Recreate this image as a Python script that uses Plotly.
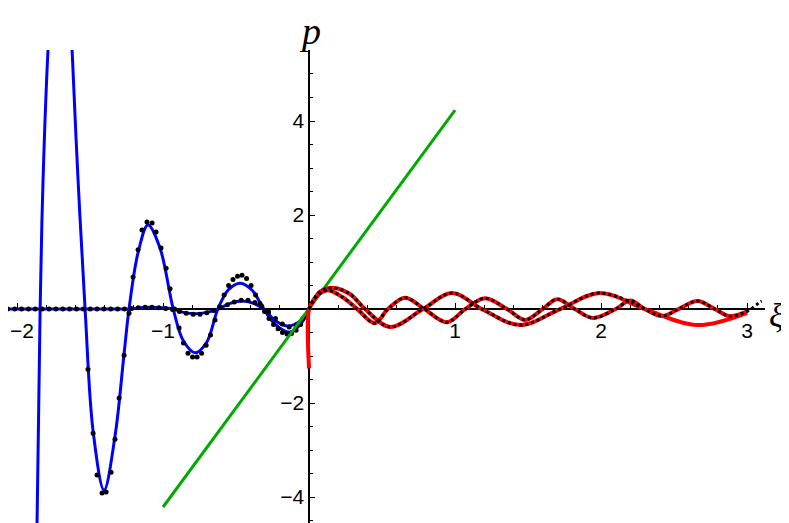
import plotly.graph_objects as go

# big blue curve (negative side)
blue1_xi = [-1.90, -1.863, -1.842, -1.822, -1.788, -1.69, -1.623, -1.582, -1.534, -1.479, -1.404,
            -1.329, -1.267, -1.233, -1.171, -1.103, -1.021, -0.93, -0.86, -0.78, -0.70, -0.625,
            -0.55, -0.47, -0.39, -0.31, -0.23, -0.13, -0.06, 0.0]
blue1_p = [-14.0, -4.55, 0.0, 2.74, 5.51, 10.5, 5.51, 2.74, 0.0, -2.6, -3.85,
           -2.7, -0.95, 0.0, 1.2, 1.79, 1.30, 0.0, -0.68, -0.93, -0.70, 0.0,
           0.42, 0.55, 0.40, 0.0, -0.33, -0.49, -0.33, 0.0]

# small blue curve
blue2_xi = [-2.12, -1.30, -1.233, -1.10, -0.93, -0.86, -0.78, -0.70, -0.625, -0.54, -0.46,
            -0.38, -0.31, -0.23, -0.15, -0.06, 0.0]
blue2_p = [0.0, 0.0, 0.0, 0.04, 0.0, -0.07, -0.10, -0.07, 0.0, 0.12, 0.17,
           0.12, 0.0, -0.25, -0.36, -0.25, 0.0]

# black sample points on the big curve
dots1_xi = [-1.514, -1.479, -1.452, -1.418, -1.390, -1.356, -1.329, -1.301, -1.267, -1.233,
            -1.205, -1.171, -1.144, -1.110, -1.075, -1.048, -1.014, -0.979, -0.952, -0.921,
            -0.890, -0.860, -0.829, -0.798, -0.767, -0.736, -0.705, -0.675, -0.644, -0.613,
            -0.582, -0.551, -0.521, -0.490, -0.459, -0.428, -0.397, -0.366, -0.336, -0.305,
            -0.274, -0.243, -0.212, -0.182, -0.151, -0.120, -0.089, -0.058, -0.027]
dots1_p = [-1.28, -2.64, -3.53, -3.91, -3.89, -3.47, -2.77, -1.89, -0.98, -0.09,
           0.68, 1.26, 1.68, 1.85, 1.83, 1.64, 1.30, 0.87, 0.43, 0.0,
           -0.40, -0.72, -0.94, -1.02, -1.02, -0.94, -0.77, -0.55, -0.23, 0.05,
           0.30, 0.50, 0.63, 0.70, 0.72, 0.65, 0.50, 0.30, 0.12, -0.05,
           -0.20, -0.33, -0.42, -0.50, -0.53, -0.52, -0.45, -0.33, -0.15]

# black sample points on the small curve
dots2_xi = [-2.110, -2.063, -2.016, -1.969, -1.922, -1.875, -1.828, -1.781, -1.734, -1.687,
            -1.640, -1.593, -1.546, -1.499, -1.452, -1.405, -1.358, -1.311, -1.264, -1.217,
            -1.170, -1.123, -1.076, -1.029, -0.982, -0.935, -0.888, -0.841, -0.794, -0.747,
            -0.700, -0.653, -0.606, -0.559, -0.512, -0.465, -0.418, -0.371, -0.324, -0.277,
            -0.230, -0.183, -0.136, -0.089, -0.042]
dots2_p = [0.0, 0.0, 0.0, 0.0, 0.0, 0.0, 0.0, 0.0, 0.0, 0.0,
           0.0, 0.0, 0.0, 0.0, 0.0, 0.0, 0.0, 0.0, 0.0, 0.01,
           0.03, 0.04, 0.04, 0.03, 0.01, -0.01, -0.05, -0.09, -0.11, -0.11,
           -0.08, -0.03, 0.03, 0.09, 0.15, 0.19, 0.19, 0.14, 0.06, -0.06,
           -0.20, -0.32, -0.38, -0.34, -0.20]

# green line
green_xi = [-1.0, 1.0]
green_p = [-4.21, 4.23]

# red curves (positive side)
red1_xi = [0.0, 0.0, 0.03, 0.07, 0.13, 0.23, 0.33, 0.45, 0.54, 0.658, 0.79, 0.945, 1.07, 1.205,
           1.356, 1.48, 1.60, 1.70, 1.82, 1.945, 2.1, 2.2, 2.3, 2.42, 2.53, 2.66, 2.78, 2.88, 3.0]
red1_p = [-1.26, 0.0, 0.17, 0.32, 0.40, 0.25, 0.0, -0.30, 0.0, 0.24, 0.0, -0.28, 0.0, 0.23,
          0.0, -0.23, 0.0, 0.21, 0.0, -0.19, 0.0, 0.18, 0.0, -0.15, 0.0, 0.17, 0.0, -0.15, -0.05]
red2_xi = [0.0, 0.03, 0.08, 0.17, 0.28, 0.384, 0.555, 0.78, 0.98, 1.185, 1.445, 1.72, 1.99,
           2.30, 2.66, 3.0]
red2_p = [0.0, 0.19, 0.38, 0.45, 0.32, 0.0, -0.38, 0.0, 0.34, 0.0, -0.34, 0.0, 0.34,
          0.0, -0.34, -0.08]

# dense black samples over the red curves
dense1_xi = red1_xi[1:] + [3.04, 3.08, 3.10]
dense1_p = red1_p[1:] + [0.03, 0.13, 0.17]
dense2_xi = red2_xi[:14]
dense2_p = red2_p[:14]

x_ticks = [-2, -1, 1, 2, 3]
x_labels = ["", "\u22121", "1", "2", "3"]  # -2 is placed by hand, it sits on the left edge
y_ticks = [-4, -2, 2, 4]

# the page puts the figure 8px in from the top-left corner
x_range = [-2.062, 3.123]
y_range = [-4.55, 5.51]

fig = go.Figure()
fig.add_trace(go.Scatter(x=blue2_xi, y=blue2_p, mode="lines",
                         line=dict(color="#0000ff", width=3, shape="spline")))
fig.add_trace(go.Scatter(x=blue1_xi, y=blue1_p, mode="lines",
                         line=dict(color="#0000ff", width=3, shape="spline")))
fig.add_trace(go.Scatter(x=dots2_xi, y=dots2_p, mode="markers",
                         marker=dict(color="black", size=5)))
fig.add_trace(go.Scatter(x=dots1_xi, y=dots1_p, mode="markers",
                         marker=dict(color="black", size=5)))
fig.add_trace(go.Scatter(x=green_xi, y=green_p, mode="lines",
                         line=dict(color="#00aa00", width=3)))
fig.add_trace(go.Scatter(x=red2_xi, y=red2_p, mode="lines",
                         line=dict(color="#ff0000", width=4, shape="spline")))
fig.add_trace(go.Scatter(x=red1_xi, y=red1_p, mode="lines",
                         line=dict(color="#ff0000", width=4, shape="spline")))
fig.add_trace(go.Scatter(x=dense2_xi, y=dense2_p, mode="lines",
                         line=dict(color="black", width=3, shape="spline", dash="3px,3px")))
fig.add_trace(go.Scatter(x=dense1_xi, y=dense1_p, mode="lines",
                         line=dict(color="black", width=3, shape="spline", dash="3px,3px")))

tick_font = dict(family="Liberation Sans, Arial, sans-serif", size=21, color="black")

fig.update_layout(
    width=789, height=523,
    margin=dict(l=0, r=32, t=42, b=8),
    plot_bgcolor="white",
    paper_bgcolor="white",
    showlegend=False,
    xaxis=dict(
        range=x_range, anchor="free", position=(0 - y_range[0]) / (y_range[1] - y_range[0]),
        automargin=False, ticklabeloverflow="allow",
        showline=True, linecolor="black", linewidth=1.5, layer="below traces",
        showgrid=False, zeroline=False,
        tickmode="array", tickvals=x_ticks, ticktext=x_labels,
        ticks="inside", ticklen=5, tickcolor="black",
        ticklabelstandoff=3, tickfont=tick_font,
        minor=dict(tickmode="linear", tick0=0, dtick=0.2, ticks="inside", ticklen=3,
                   tickcolor="black", showgrid=False),
    ),
    yaxis=dict(
        range=y_range, anchor="free", position=(0 - x_range[0]) / (x_range[1] - x_range[0]),
        automargin=False, ticklabeloverflow="allow",
        showline=True, linecolor="black", linewidth=1.5, layer="below traces",
        showgrid=False, zeroline=False,
        tickmode="array", tickvals=y_ticks, ticks="inside", ticklen=5, tickcolor="black",
        tickfont=tick_font,
        minor=dict(tickmode="linear", tick0=0, dtick=0.5, ticks="inside", ticklen=3,
                   tickcolor="black", showgrid=False),
    ),
)

fig.add_annotation(text="\u22122", xref="paper", yref="paper", x=0, y=193 / 473,
                   xanchor="left", yanchor="middle", showarrow=False, font=tick_font)
fig.add_annotation(text="<i>p</i>", xref="paper", yref="paper", x=302 / 757, y=1 + 19 / 473,
                   xanchor="center", yanchor="middle", showarrow=False,
                   font=dict(family="Liberation Serif", size=38, color="black"))
fig.add_annotation(text="<i>ξ</i>", xref="paper", yref="paper", x=768 / 757, y=207 / 473,
                   xanchor="center", yanchor="middle", showarrow=False,
                   font=dict(family="Liberation Serif", size=34, color="black"))

fig.write_html("out.html")
